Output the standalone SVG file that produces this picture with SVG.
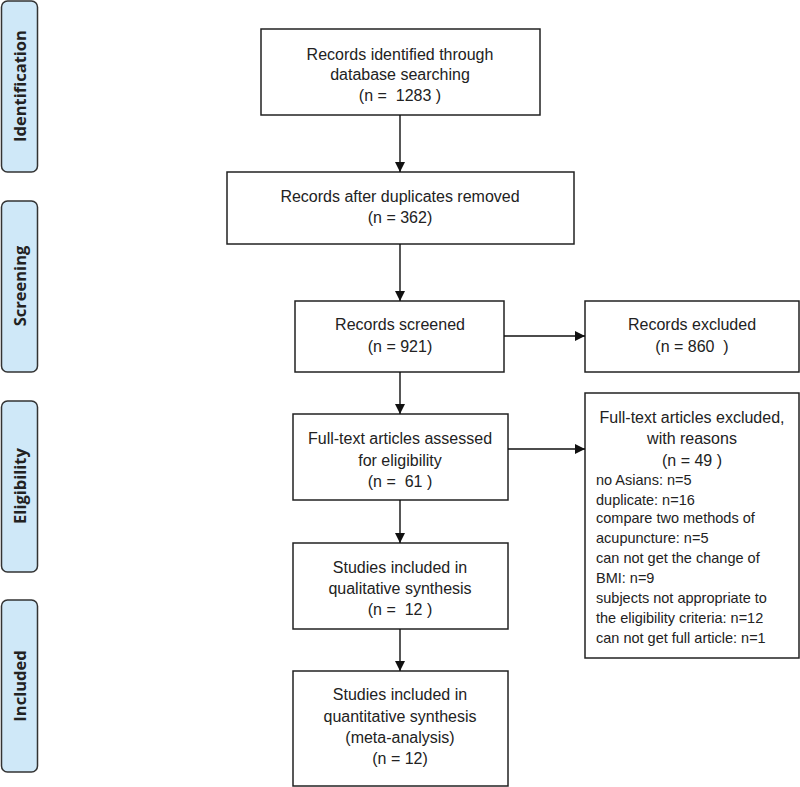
<svg xmlns="http://www.w3.org/2000/svg" width="800" height="787" viewBox="0 0 800 787">
<style>
.box{fill:#fff;stroke:#222;stroke-width:1.5}
.side{fill:#cfe8f8;stroke:#333;stroke-width:1.5}
text{white-space:pre}
.t{font-family:"Liberation Sans",Arial,sans-serif;font-size:16px;fill:#222;text-anchor:middle}
.l{font-family:"Liberation Sans",Arial,sans-serif;font-size:14.5px;fill:#222}
.st{font-family:"Open Sans","Liberation Sans",sans-serif;font-size:16.5px;font-weight:bold;fill:#222;text-anchor:middle}
.c{stroke:#111;stroke-width:1.4;fill:none;marker-end:url(#ah)}
</style>
<defs>
<marker id="ah" viewBox="0 0 10 10" refX="10" refY="5" markerWidth="10" markerHeight="10" markerUnits="userSpaceOnUse" orient="auto">
<path d="M0,0 L10,5 L0,10 z" fill="#111"/>
</marker>
</defs>
<rect width="800" height="787" fill="#fff"/>
<g id="side-identification"><rect class="side" x="1.5" y="1" width="36" height="171" rx="6"/><text class="st" transform="translate(26,86) rotate(-90)">Identification</text></g>
<g id="side-screening"><rect class="side" x="1.5" y="201" width="36" height="171" rx="6"/><text class="st" transform="translate(26,286) rotate(-90)">Screening</text></g>
<g id="side-eligibility"><rect class="side" x="1.5" y="401" width="36" height="171" rx="6"/><text class="st" transform="translate(26,486) rotate(-90)">Eligibility</text></g>
<g id="side-included"><rect class="side" x="1.5" y="600" width="36" height="172" rx="6"/><text class="st" transform="translate(26,686) rotate(-90)">Included</text></g>

<g id="n1"><rect class="box" x="261" y="29" width="279" height="86"/>
<text class="t" x="400" y="60">Records identified through</text>
<text class="t" x="400" y="80">database searching</text>
<text class="t" x="400" y="101">(n =  1283 )</text></g>
<g id="n2"><rect class="box" x="227" y="172" width="347" height="72"/>
<text class="t" x="400" y="202">Records after duplicates removed</text>
<text class="t" x="400" y="223">(n = 362)</text></g>
<g id="n3"><rect class="box" x="295" y="301" width="209" height="71"/>
<text class="t" x="400" y="330">Records screened</text>
<text class="t" x="400" y="352">(n = 921)</text></g>
<g id="n3x"><rect class="box" x="585" y="301" width="214" height="71"/>
<text class="t" x="692" y="330">Records excluded</text>
<text class="t" x="692" y="352">(n = 860  )</text></g>
<g id="n4"><rect class="box" x="293" y="414" width="215" height="86"/>
<text class="t" x="400" y="444">Full-text articles assessed</text>
<text class="t" x="400" y="466">for eligibility</text>
<text class="t" x="400" y="487">(n =  61 )</text></g>
<g id="n4x"><rect class="box" x="585" y="393" width="214" height="265"/>
<text class="t" x="692" y="423">Full-text articles excluded,</text>
<text class="t" x="692" y="444">with reasons</text>
<text class="t" x="692" y="466">(n = 49 )</text>
<text class="l" x="596" y="485">no Asians: n=5</text>
<text class="l" x="596" y="505">duplicate: n=16</text>
<text class="l" x="596" y="523">compare two methods of</text>
<text class="l" x="596" y="543">acupuncture: n=5</text>
<text class="l" x="596" y="563">can not get the change of</text>
<text class="l" x="596" y="583">BMI: n=9</text>
<text class="l" x="596" y="603">subjects not appropriate to</text>
<text class="l" x="596" y="623">the eligibility criteria: n=12</text>
<text class="l" x="596" y="643">can not get full article: n=1</text></g>
<g id="n5"><rect class="box" x="293" y="543" width="215" height="86"/>
<text class="t" x="400" y="573">Studies included in</text>
<text class="t" x="400" y="594">qualitative synthesis</text>
<text class="t" x="400" y="615">(n =  12 )</text></g>
<g id="n6"><rect class="box" x="293" y="671" width="215" height="115"/>
<text class="t" x="400" y="700">Studies included in</text>
<text class="t" x="400" y="722">quantitative synthesis</text>
<text class="t" x="400" y="743">(meta-analysis)</text>
<text class="t" x="400" y="764">(n = 12)</text></g>

<g id="connectors">
<line class="c" x1="400" y1="115" x2="400" y2="172"/>
<line class="c" x1="400" y1="244" x2="400" y2="301"/>
<line class="c" x1="400" y1="372" x2="400" y2="414"/>
<line class="c" x1="400" y1="500" x2="400" y2="543"/>
<line class="c" x1="400" y1="629" x2="400" y2="671"/>
<line class="c" x1="504" y1="336" x2="585" y2="336"/>
<line class="c" x1="508" y1="449" x2="585" y2="449"/>
</g>
</svg>
